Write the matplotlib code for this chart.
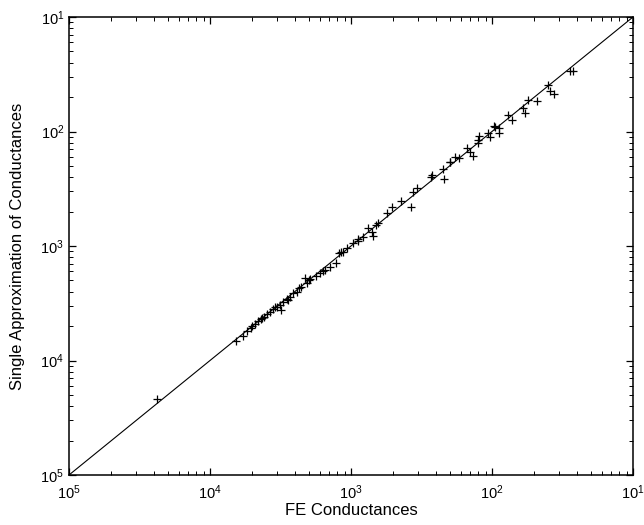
import numpy as np
import matplotlib
matplotlib.use('Agg')
import matplotlib.pyplot as plt
from matplotlib.ticker import LogLocator, FuncFormatter, NullFormatter

plt.rcParams['font.family'] = ['Liberation Sans', 'DejaVu Sans']
plt.rcParams['mathtext.fontset'] = 'custom'
plt.rcParams['mathtext.rm'] = 'Liberation Sans'
plt.rcParams['mathtext.default'] = 'regular'

# log10 of the values
fe_log10 = [-4.376, -3.816, -3.766, -3.738, -3.709, -3.681, -3.660, -3.638, -3.617, -3.596,
            -3.574, -3.553, -3.525, -3.504, -3.496, -3.482, -3.454, -3.433, -3.411, -3.383,
            -3.355, -3.326, -3.312, -3.291, -3.248, -3.220, -3.184, -3.149, -3.106, -3.085,
            -3.057, -3.028, -2.986, -2.950, -2.915, -2.879, -2.851, -2.844, -2.823, -2.745,
            -2.709, -2.645, -2.574, -2.560, -2.532, -2.426, -2.348, -2.340, -2.298, -2.262,
            -2.234, -2.177, -2.156, -2.135, -2.099, -2.092, -2.028, -2.014, -1.986, -1.950,
            -1.950, -1.887, -1.858, -1.780, -1.766, -1.745, -1.681, -1.603, -1.589, -1.560,
            -1.447, -1.426,
            -3.700, -3.630, -3.540, -3.450, -3.370, -3.300, -3.200, -3.070, -2.950, -2.810,
            -2.430, -2.300, -2.100, -1.980]
approx_log10 = [-4.336, -3.830, -3.786, -3.742, -3.716, -3.681, -3.655, -3.638, -3.620, -3.594,
                -3.576, -3.550, -3.533, -3.515, -3.559, -3.489, -3.463, -3.445, -3.410, -3.402,
                -3.358, -3.279, -3.323, -3.288, -3.262, -3.236, -3.210, -3.183, -3.148, -3.061,
                -3.052, -3.017, -2.974, -2.939, -2.921, -2.843, -2.878, -2.913, -2.817, -2.712,
                -2.659, -2.607, -2.659, -2.528, -2.493, -2.380, -2.328, -2.415, -2.266, -2.223,
                -2.231, -2.144, -2.179, -2.214, -2.100, -2.039, -2.013, -2.048, -1.952, -1.969,
                -2.013, -1.856, -1.900, -1.795, -1.838, -1.725, -1.734, -1.594, -1.646, -1.672,
                -1.472, -1.472,
                -3.700, -3.625, -3.530, -3.470, -3.370, -3.300, -3.215, -3.050, -2.960, -2.795,
                -2.400, -2.270, -2.070, -1.960]
axis_range = [1e-5, 1e-1]

fe = np.power(10.0, fe_log10)
approx = np.power(10.0, approx_log10)

fig = plt.figure(figsize=(6.44, 5.25), dpi=100)
ax = fig.add_axes([0.1071, 0.0952, 0.8758, 0.8724])
ax.plot(axis_range, axis_range, color='black', lw=0.8)
ax.plot(fe, approx, '+', color='black', ms=6, mew=0.9)
ax.set_xscale('log')
ax.set_yscale('log')
ax.set_xlim(axis_range)
ax.set_ylim(axis_range)

fmt = FuncFormatter(lambda v, p: r'$10^{%d}$' % abs(int(round(np.log10(v)))))
for a in (ax.xaxis, ax.yaxis):
    a.set_major_locator(LogLocator(base=10))
    a.set_minor_locator(LogLocator(base=10, subs=np.arange(2, 10)))
    a.set_major_formatter(fmt)
    a.set_minor_formatter(NullFormatter())
ax.tick_params(which='both', direction='in', top=True, right=True, labelsize=10.5)
ax.tick_params(which='major', length=5, width=0.9)
ax.tick_params(which='minor', length=3, width=0.7)
ax.tick_params(axis='x', pad=6)
for s in ax.spines.values():
    s.set_linewidth(1.1)

ax.set_xlabel('FE Conductances', fontsize=12, labelpad=1)
ax.set_ylabel('Single Approximation of Conductances', fontsize=12, labelpad=11)

plt.savefig('out.png', dpi=100)
